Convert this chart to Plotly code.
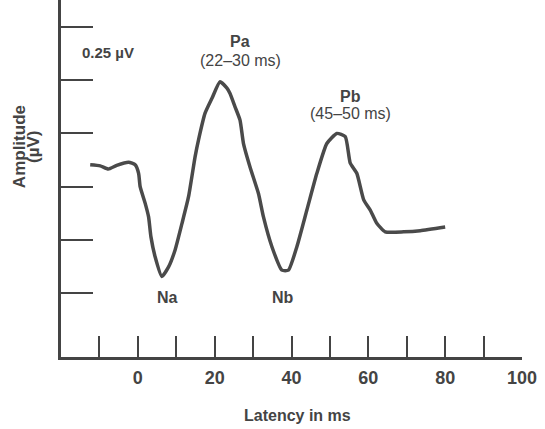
import plotly.graph_objects as go

# waveform; amplitude in scale divisions (1 div = 0.25 µV)
latency_ms = [-12.4, -9.8, -7.7, -5.5, -2.4, -0.7, 0.2, 0.6, 1.9, 2.8, 3.4, 4.5,
              6.25, 8.0, 9.7, 11.5, 13.2, 14.9, 15.8, 17.5, 19.3, 21.4, 23.2,
              24.0, 25.3, 26.6, 27.5, 29.2, 31.4, 32.7, 34.9, 37.5, 39.2, 41.4,
              44.0, 46.6, 49.2, 51.8, 54.0, 55.3, 57.0, 58.8, 60.5, 62.2, 64.4,
              69.2, 73.5, 80.0]
amplitude_div = [3.41, 3.39, 3.33, 3.40, 3.46, 3.41, 3.25, 3.00, 2.69, 2.43,
                 2.06, 1.68, 1.31, 1.49, 1.81, 2.31, 2.81, 3.56, 3.88, 4.38,
                 4.66, 4.97, 4.85, 4.75, 4.50, 4.25, 3.81, 3.37, 2.87, 2.43,
                 1.87, 1.43, 1.43, 1.87, 2.56, 3.25, 3.81, 4.00, 3.94, 3.44,
                 3.25, 2.75, 2.56, 2.31, 2.15, 2.15, 2.17, 2.24]

x_tick_marks = [-10, 0, 10, 20, 30, 40, 50, 60, 70, 80, 90]
x_tick_labels = [0, 20, 40, 60, 80, 100]
y_tick_marks = [1, 2, 3, 4, 5, 6]

# peak labels: (text, latency, amplitude, bold)
peak_labels = [
    ("Pa", 26.6, 5.72, True),
    ("(22–30 ms)", 26.6, 5.38, False),
    ("Pb", 55.3, 4.70, True),
    ("(45–50 ms)", 55.3, 4.38, False),
    ("Na", 7.7, 0.91, True),
    ("Nb", 37.9, 0.91, True),
]

INK = "#444444"
FONT = "Liberation Sans, Arial, sans-serif"

fig = go.Figure()
fig.add_trace(
    go.Scatter(
        x=latency_ms,
        y=amplitude_div,
        mode="lines",
        line=dict(color="#4a4a4a", width=3.5, shape="spline", smoothing=0.5),
        hoverinfo="skip",
    )
)
# invisible trace to carry the label axis
fig.add_trace(
    go.Scatter(x=[None], y=[None], xaxis="x2", showlegend=False, hoverinfo="skip")
)

for text, lx, ly, bold in peak_labels:
    fig.add_annotation(
        x=lx, y=ly, text=text, showarrow=False,
        xanchor="center", yanchor="middle",
        font=dict(family=FONT, size=16, color=INK,
                  weight="bold" if bold else "normal"),
    )

fig.add_annotation(
    x=-15.0, y=5.53, text="0.25 µV", showarrow=False,
    xanchor="left", yanchor="middle",
    font=dict(family=FONT, size=15, color=INK, weight="bold"),
)
# two-line rotated y title, placed line by line
for text, px in [("Amplitude", -0.091), ("(µV)", -0.061)]:
    fig.add_annotation(
        xref="paper", yref="paper", x=px, y=0.588,
        text=text, showarrow=False, textangle=-90,
        xanchor="center", yanchor="middle",
        font=dict(family=FONT, size=17, color=INK, weight="bold"),
    )
fig.add_annotation(
    xref="paper", yref="paper", x=0.512, y=-0.164,
    text="Latency in ms", showarrow=False,
    xanchor="center", yanchor="middle",
    font=dict(family=FONT, size=16, color=INK, weight="bold"),
)

fig.update_layout(
    width=545,
    height=429,
    margin=dict(l=61, r=23, t=0, b=72),
    paper_bgcolor="white",
    plot_bgcolor="white",
    showlegend=False,
    xaxis=dict(
        range=[-20, 100],
        tickmode="array",
        tickvals=x_tick_marks,
        ticks="inside",
        ticklen=21,
        tickwidth=2,
        tickcolor=INK,
        showticklabels=False,
        showgrid=False,
        zeroline=False,
        showline=True,
        linecolor=INK,
        linewidth=2.5,
    ),
    xaxis2=dict(
        range=[-20, 100],
        overlaying="x",
        side="bottom",
        anchor="y",
        tickmode="array",
        tickvals=x_tick_labels,
        ticks="",
        ticklabelstandoff=8,
        tickfont=dict(family=FONT, size=18, color=INK, weight="bold"),
        showgrid=False,
        zeroline=False,
        showline=False,
    ),
    yaxis=dict(
        range=[-0.203, 6.508],
        tickmode="array",
        tickvals=y_tick_marks,
        ticks="inside",
        ticklen=32,
        tickwidth=2,
        tickcolor=INK,
        showticklabels=False,
        showgrid=False,
        zeroline=False,
        showline=True,
        linecolor=INK,
        linewidth=2.5,
    ),
)

# drop the default page margin so the figure sits at the window's corner
fig.write_html(
    "out.html",
    config={"displayModeBar": False},
    post_script="document.body.style.margin='0';",
)
